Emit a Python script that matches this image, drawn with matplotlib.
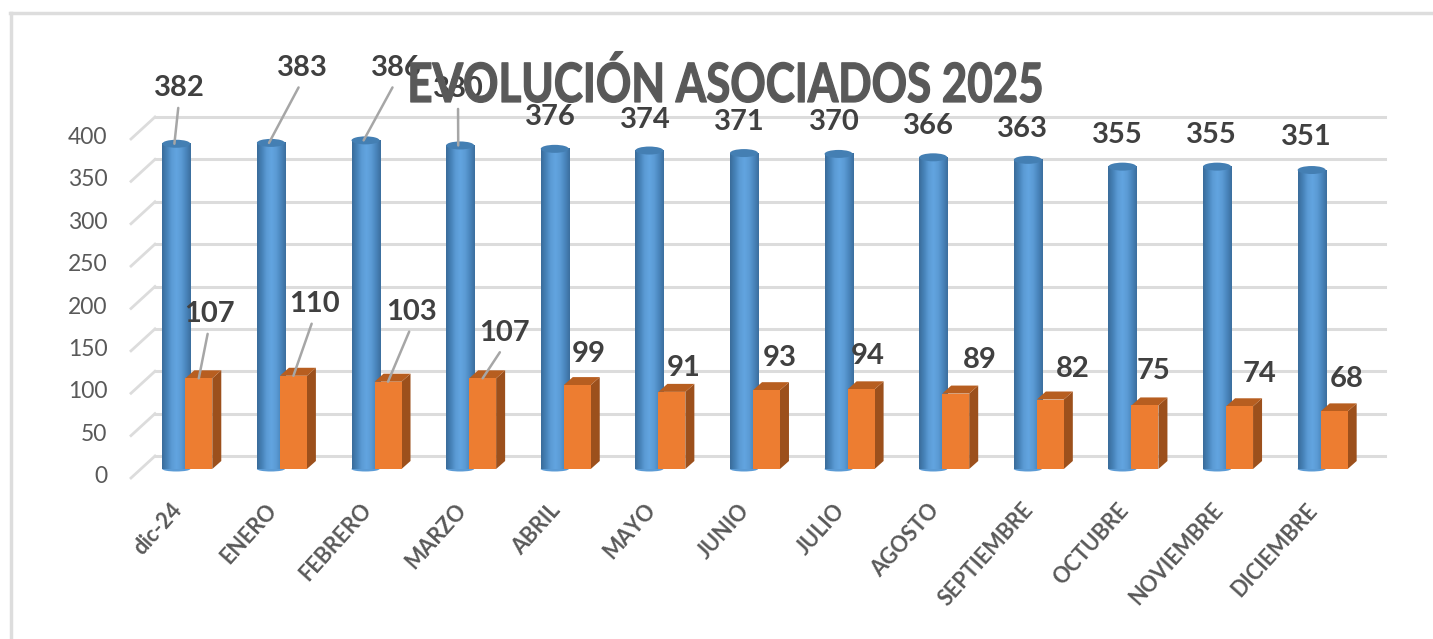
import numpy as np
import matplotlib
matplotlib.use("Agg")
import matplotlib.pyplot as plt
from matplotlib.patches import Polygon, Ellipse, Rectangle
from matplotlib.lines import Line2D
from matplotlib.text import Text, TextPath
from matplotlib.transforms import Affine2D, IdentityTransform, Bbox
from matplotlib.colors import LinearSegmentedColormap, to_rgb

plt.rcParams['font.family'] = ['Lato', 'DejaVu Sans']

# ---- data
categories = ["dic-24", "ENERO", "FEBRERO", "MARZO", "ABRIL", "MAYO", "JUNIO",
              "JULIO", "AGOSTO", "SEPTIEMBRE", "OCTUBRE", "NOVIEMBRE", "DICIEMBRE"]
blue_values = [382, 383, 386, 380, 376, 374, 371, 370, 366, 363, 355, 355, 351]
orange_values = [107, 110, 103, 107, 99, 91, 93, 94, 89, 82, 75, 74, 68]
y_ticks = [0, 50, 100, 150, 200, 250, 300, 350, 400]
title = "EVOLUCIÓN ASOCIADOS 2025"

# ---- label layout (image pixels)
blue_label_px = [(179, 88), (302, 68), (396, 68), (458, 89), (550, 117), (645, 120), (739, 122),
                 (834, 122), (928, 126), (1022, 129), (1117, 135), (1211, 135), (1306, 137)]
orange_label_px = [(209, 314), (314, 304), (412, 312), (504, 333), (589, 354), (684, 368), (780, 358),
                   (868, 356), (980, 360), (1073, 369), (1154, 371), (1260, 374), (1347, 379)]
leaders = 4  # first four labels of each series have leader lines

W, H = 1433, 639
fig = plt.figure(figsize=(W / 100, H / 100), dpi=100, facecolor="white")


class SqueezedText(Text):
    """Real text whose glyphs are drawn horizontally condensed (no condensed font is installed)."""
    squeeze = 0.81

    def _tr(self):
        tp = TextPath((0, 0), self.get_text(), prop=self.get_fontproperties())
        e = tp.get_extents()
        k = self.get_figure().dpi / 72
        x, y = self.get_transform().transform(self.get_position())
        tr = (Affine2D().translate(-(e.x0 + e.x1) / 2, -(e.y0 + e.y1) / 2)
              .scale(k * self.squeeze, k).translate(x, y))
        return tp, tr

    def draw(self, renderer):
        tp, tr = self._tr()
        gc = renderer.new_gc()
        gc.set_foreground(self.get_color())
        gc.set_linewidth(0.9)
        renderer.draw_path(gc, tp, tr, rgbFace=to_rgb(self.get_color()))
        gc.restore()

    def get_window_extent(self, renderer=None, dpi=None):
        tp, tr = self._tr()
        return Bbox(tp.get_extents(tr).get_points())


# front plane of the fake 3-D box
L, R = 131, 1361
Y0, Y400 = 474.5, 135.5
ax = fig.add_axes([L / W, 1 - Y0 / H, (R - L) / W, (Y0 - Y400) / H])
ax.patch.set_visible(False)
for s in ax.spines.values():
    s.set_visible(False)
ax.set_xlim(-0.5, 12.5)
ax.set_ylim(0, 400)


def shift(dx, dy):
    return ax.transData + Affine2D().translate(dx, dy)


bar_plane = shift(8, 5.5)
back_plane = shift(24, 18.5)
grid_col = "#dcdcdc"

for t in y_ticks:
    ax.plot([-0.5, 12.5], [t, t], color=grid_col, lw=2.2, transform=back_plane, zorder=1, clip_on=False)
    xd, yd = ax.transData.transform((-0.5, t))
    ax.add_line(Line2D([xd, xd + 24], [yd - 3.5, yd + 18.5], color=grid_col, lw=2.0,
                       transform=IdentityTransform(), zorder=1, clip_on=False))

cyl = LinearSegmentedColormap.from_list(
    "cyl", ["#3a6c9a", "#4682b8", "#5b9bd5", "#62a4e0", "#5b9bd5", "#4a86bd", "#3c6f9e"])
grad = np.linspace(0, 1, 64).reshape(1, -1)

bw, ow = 0.296, 0.285
bd, od = -0.106, 0.132
sx, sy = 9, 8  # side depth of orange boxes, px
to_bar = bar_plane
px_x = 94.615  # pixels per category
px_y = (Y0 - Y400) / 400
blue_lift = 1.5 / px_y  # the cylinders stand a little taller than the boxes in the depth view

for i, (b, o) in enumerate(zip(blue_values, orange_values)):
    xb = i + bd
    ax.imshow(grad, extent=[xb - bw / 2, xb + bw / 2, 0, b + blue_lift], aspect="auto", cmap=cyl,
              transform=to_bar, zorder=3, interpolation="bilinear")
    ax.add_patch(Ellipse((xb, b + blue_lift), bw, 8 / px_y, facecolor="#447fb3", edgecolor="none",
                         transform=to_bar, zorder=3.2))
    ax.add_patch(Ellipse((xb, 0), bw, 5 / px_y, facecolor="#5b9bd5", edgecolor="none",
                         transform=to_bar, zorder=2.9))

    xo = i + od
    l, r = xo - ow / 2, xo + ow / 2
    dxs, dys = sx / px_x, sy / px_y
    ax.add_patch(Polygon([(r, 0), (r + dxs, dys), (r + dxs, o + dys), (r, o)],
                         facecolor="#9c501c", edgecolor="none", transform=to_bar, zorder=4))
    ax.add_patch(Polygon([(l, o), (l + dxs, o + dys), (r + dxs, o + dys), (r, o)],
                         facecolor="#b75e20", edgecolor="none", transform=to_bar, zorder=4))
    ax.add_patch(Rectangle((l, 0), ow, o, facecolor="#ed7d31", edgecolor="none",
                           transform=to_bar, zorder=4.1))

# data labels
lab_kw = dict(fontsize=21, fontweight="bold", color="#404040", ha="center", va="center",
              textcoords="figure pixels", annotation_clip=False, zorder=8)
line_kw = dict(arrowstyle="-", color="#a6a6a6", lw=1.8, relpos=(0.5, 0), shrinkA=3, shrinkB=0)
bar_xy = to_bar + ax.transData.inverted()
for i, v in enumerate(blue_values):
    px = blue_label_px[i]
    ax.annotate(str(v), xy=bar_xy.transform((i + bd - 0.02, v + blue_lift)), xycoords="data",
                xytext=(px[0], H - px[1]),
                arrowprops=line_kw if i < leaders else None, **lab_kw)
for i, v in enumerate(orange_values):
    px = orange_label_px[i]
    ax.annotate(str(v), xy=bar_xy.transform((i + od, v)), xycoords="data",
                xytext=(px[0], H - px[1]),
                arrowprops=line_kw if i < leaders else None, **lab_kw)

# axes
ax.set_xlim(-0.5, 12.5)
ax.set_ylim(0, 400)
ax.set_yticks(y_ticks)
ax.set_yticklabels([str(t) for t in y_ticks], fontsize=16.5, color="#595959")
ax.tick_params(axis="y", length=0, pad=17)
ax.set_xticks(np.arange(len(categories)) - 0.08)
ax.set_xticklabels(categories, fontsize=15.5, fontweight="bold", color="#595959",
                   rotation=48, ha="right", va="top", rotation_mode="anchor")
ax.tick_params(axis="x", length=0, pad=18)

t = SqueezedText(726 / W, 1 - 77 / H, title, fontsize=39, fontweight="bold", color="#595959",
                 ha="center", va="center", zorder=7, transform=fig.transFigure)
fig.add_artist(t)

# outer frame of the screenshot
frame = "#dddddd"
fig.add_artist(Line2D([10 / W, 1], [1 - 13 / H, 1 - 13 / H], color=frame, lw=2.5))
fig.add_artist(Line2D([11 / W, 11 / W], [0, 1 - 13 / H], color=frame, lw=2.5))

fig.savefig("out.png", dpi=100, facecolor="white")
